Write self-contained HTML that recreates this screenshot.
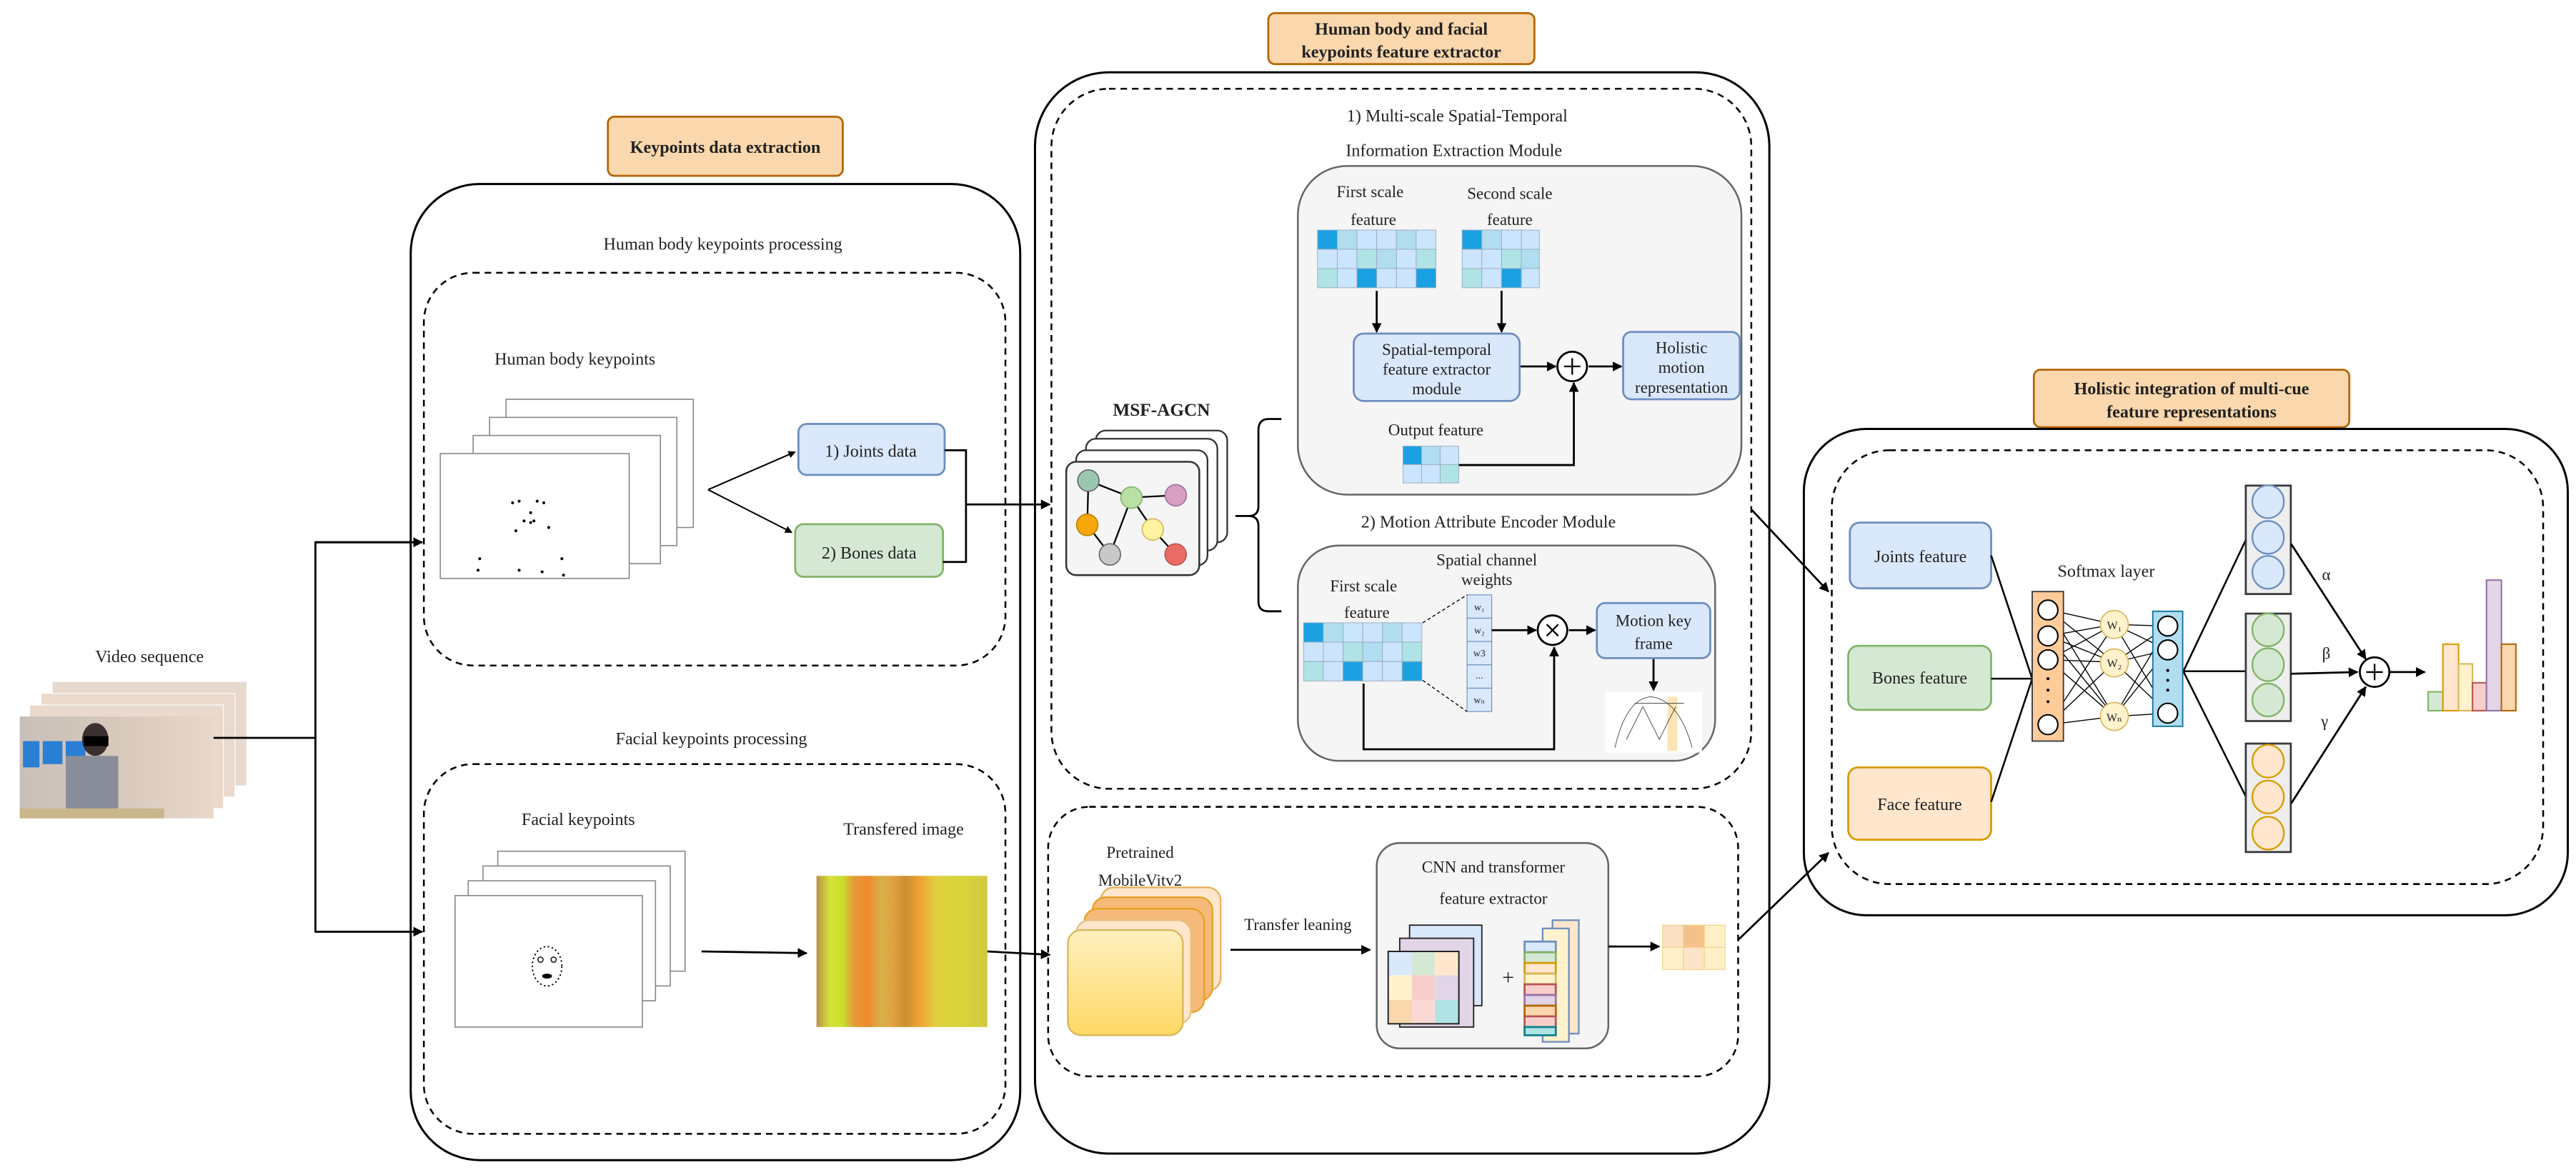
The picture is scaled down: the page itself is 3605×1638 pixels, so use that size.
<!DOCTYPE html>
<html><head><meta charset="utf-8"><style>
html,body{margin:0;padding:0;background:#fff}
svg{display:block}
svg text{font-family:"Liberation Serif","DejaVu Serif",serif !important;fill:#222}
</style></head><body>
<svg width="3605" height="1638" viewBox="0 0 1568 712" preserveAspectRatio="none" xmlns="http://www.w3.org/2000/svg" font-family="Liberation Serif, serif">
<defs>
<marker id="a" viewBox="0 0 10 10" refX="9" refY="5" markerWidth="5" markerHeight="5" orient="auto"><path d="M0,0L10,5L0,10z" fill="#000"/></marker>
<linearGradient id="tg" x1="0" x2="1" y1="0" y2="0">
<stop offset="0" stop-color="#b8914a"/><stop offset="0.08" stop-color="#d7e23a"/><stop offset="0.15" stop-color="#c8e02a"/><stop offset="0.22" stop-color="#e59a3a"/><stop offset="0.3" stop-color="#ef8a2a"/><stop offset="0.38" stop-color="#d8b048"/><stop offset="0.45" stop-color="#e2a040"/><stop offset="0.52" stop-color="#c99030"/><stop offset="0.6" stop-color="#f0a030"/><stop offset="0.7" stop-color="#e0d040"/><stop offset="0.85" stop-color="#d8d438"/><stop offset="1" stop-color="#d4c840"/></linearGradient>
<linearGradient id="yg" x1="0" x2="0" y1="0" y2="1"><stop offset="0" stop-color="#fff0c0"/><stop offset="1" stop-color="#ffd966"/></linearGradient>
<linearGradient id="vg" x1="0" x2="1" y1="0" y2="0"><stop offset="0" stop-color="#c8c0b8"/><stop offset="0.5" stop-color="#d8c8bc"/><stop offset="1" stop-color="#e8d8cc"/></linearGradient>
</defs>

<!-- Title boxes -->
<rect x="370" y="71" width="143" height="36" rx="4" fill="#fad7ac" stroke="#b46504" stroke-width="1.2"/>
<text x="441.5" y="93" font-size="10.5" font-weight="bold" text-anchor="middle">Keypoints data extraction</text>
<rect x="772" y="8" width="162" height="31" rx="4" fill="#fad7ac" stroke="#b46504" stroke-width="1.2"/>
<text x="853" y="21" font-size="10.5" font-weight="bold" text-anchor="middle">Human body and facial</text>
<text x="853" y="35" font-size="10.5" font-weight="bold" text-anchor="middle">keypoints feature extractor</text>
<rect x="1238" y="225" width="192" height="35" rx="4" fill="#fad7ac" stroke="#b46504" stroke-width="1.2"/>
<text x="1334" y="240" font-size="10.5" font-weight="bold" text-anchor="middle">Holistic integration of multi-cue</text>
<text x="1334" y="254" font-size="10.5" font-weight="bold" text-anchor="middle">feature representations</text>

<!-- Outer boxes -->
<rect x="250" y="112" width="371" height="594" rx="42" fill="none" stroke="#000" stroke-width="1.3"/>
<rect x="630" y="44" width="447" height="658" rx="45" fill="none" stroke="#000" stroke-width="1.3"/>
<rect x="1098" y="261" width="465" height="296" rx="38" fill="none" stroke="#000" stroke-width="1.3"/>

<!-- Dashed -->
<g fill="none" stroke="#000" stroke-width="1.1" stroke-dasharray="4,3">
<rect x="258" y="166" width="354" height="239" rx="30"/>
<rect x="258" y="465" width="354" height="225" rx="30"/>
<rect x="640" y="54" width="426" height="426" rx="35"/>
<rect x="638" y="491" width="420" height="164" rx="25"/>
<rect x="1115" y="274" width="433" height="264" rx="35"/>
</g>

<!-- Video sequence -->
<text x="91" y="403" font-size="10.5" text-anchor="middle">Video sequence</text>
<rect x="32" y="415" width="118" height="63" fill="#e7d9cc"/>
<rect x="25" y="422" width="118" height="63" fill="#ead9cc" stroke="#fff" stroke-width="0.5"/>
<rect x="18" y="429" width="118" height="63" fill="#ead9cc" stroke="#fff" stroke-width="0.5"/>
<rect x="12" y="436" width="118" height="62" fill="url(#vg)"/>
<rect x="14" y="451" width="10" height="16" fill="#2a7fd4"/><rect x="26" y="451" width="12" height="14" fill="#2a7fd4"/><rect x="40" y="451" width="12" height="14" fill="#2a7fd4"/>
<ellipse cx="58" cy="450" rx="8" ry="10" fill="#3a3030"/>
<rect x="51" y="448" width="15" height="6" fill="#000"/>
<rect x="40" y="460" width="32" height="32" fill="#8a8e9a"/>
<rect x="12" y="492" width="88" height="6" fill="#c9b68a"/>
<!-- video connectors -->
<g stroke="#000" stroke-width="1.2" fill="none">
<path d="M130,449H192"/>
<path d="M250,330H192V567H250" />
<path d="M192,330H257" marker-end="url(#a)"/>
<path d="M192,567H257" marker-end="url(#a)"/>
</g>

<!-- Human body keypoints processing -->
<text x="440" y="152" font-size="10.5" text-anchor="middle">Human body keypoints processing</text>
<text x="350" y="222" font-size="10.5" text-anchor="middle">Human body keypoints</text>
<g fill="#fff" stroke="#888" stroke-width="0.7">
<rect x="308" y="243" width="114" height="78"/>
<rect x="298" y="254" width="114" height="78"/>
<rect x="288" y="265" width="114" height="78"/>
<rect x="268" y="276" width="115" height="76"/>
</g>
<g fill="#000">
<circle cx="312" cy="306" r="0.9"/><circle cx="316" cy="305" r="0.9"/><circle cx="327" cy="305" r="0.9"/><circle cx="331" cy="306" r="0.9"/>
<circle cx="323" cy="312" r="0.9"/><circle cx="319" cy="317" r="0.9"/><circle cx="323" cy="318" r="0.9"/><circle cx="325" cy="317" r="0.9"/><circle cx="314" cy="323" r="0.9"/><circle cx="334" cy="321" r="0.9"/>
<circle cx="292" cy="340" r="0.9"/><circle cx="291" cy="347" r="0.9"/><circle cx="316" cy="347" r="0.9"/><circle cx="330" cy="348" r="0.9"/><circle cx="342" cy="340" r="0.9"/><circle cx="343" cy="350" r="0.9"/>
</g>
<g stroke="#000" stroke-width="0.9" fill="none">
<path d="M431,298L484,275" marker-end="url(#a)"/>
<path d="M431,298L482,324" marker-end="url(#a)"/>
</g>
<rect x="486" y="258" width="89" height="31" rx="5" fill="#dae8fc" stroke="#6c8ebf" stroke-width="1.2"/>
<text x="530" y="278" font-size="10.5" text-anchor="middle">1) Joints data</text>
<rect x="484" y="319" width="90" height="32" rx="5" fill="#d5e8d4" stroke="#82b366" stroke-width="1.2"/>
<text x="529" y="340" font-size="10.5" text-anchor="middle">2) Bones data</text>
<g stroke="#000" stroke-width="1.2" fill="none">
<path d="M575,274H588V342H574"/>
<path d="M588,307H639" marker-end="url(#a)"/>
</g>

<!-- Facial -->
<text x="433" y="453" font-size="10.5" text-anchor="middle">Facial keypoints processing</text>
<text x="352" y="502" font-size="10.5" text-anchor="middle">Facial keypoints</text>
<text x="550" y="508" font-size="10.5" text-anchor="middle">Transfered image</text>
<g fill="#fff" stroke="#888" stroke-width="0.7">
<rect x="303" y="518" width="114" height="73"/>
<rect x="294" y="527" width="114" height="73"/>
<rect x="285" y="536" width="114" height="73"/>
<rect x="277" y="545" width="114" height="80"/>
</g>
<ellipse cx="333" cy="588" rx="9" ry="12" fill="none" stroke="#000" stroke-width="0.8" stroke-dasharray="1,1.5"/>
<circle cx="329" cy="584" r="1.6" fill="none" stroke="#000" stroke-width="0.6"/><circle cx="337" cy="584" r="1.6" fill="none" stroke="#000" stroke-width="0.6"/>
<ellipse cx="333" cy="594" rx="3" ry="1.5" fill="#000"/>
<path d="M427,579L491,580" stroke="#000" stroke-width="1.2" marker-end="url(#a)"/>
<rect x="497" y="533" width="104" height="92" fill="url(#tg)"/>
<path d="M601,579L639,581" stroke="#000" stroke-width="1.2" marker-end="url(#a)"/>

<!-- Middle top -->
<text x="887" y="74" font-size="10.5" text-anchor="middle">1) Multi-scale Spatial-Temporal</text>
<text x="885" y="95" font-size="10.5" text-anchor="middle">Information Extraction Module</text>
<rect x="790" y="101" width="270" height="200" rx="30" fill="#f5f5f5" stroke="#666" stroke-width="1.1"/>
<text x="834" y="120" font-size="10" text-anchor="middle">First scale</text>
<text x="836" y="137" font-size="10" text-anchor="middle">feature</text>
<text x="919" y="121" font-size="10" text-anchor="middle">Second scale</text>
<text x="919" y="137" font-size="10" text-anchor="middle">feature</text>
<g stroke="#9ab" stroke-width="0.4">
<rect x="802" y="140" width="12" height="11.7" fill="#1ba1e2"/><rect x="814" y="140" width="12" height="11.7" fill="#b1ddf0"/><rect x="826" y="140" width="12" height="11.7" fill="#cce5ff"/><rect x="838" y="140" width="12" height="11.7" fill="#cce5ff"/><rect x="850" y="140" width="12" height="11.7" fill="#b1ddf0"/><rect x="862" y="140" width="12" height="11.7" fill="#cce5ff"/>
<rect x="802" y="151.7" width="12" height="11.7" fill="#cce5ff"/><rect x="814" y="151.7" width="12" height="11.7" fill="#cce5ff"/><rect x="826" y="151.7" width="12" height="11.7" fill="#b0e3e6"/><rect x="838" y="151.7" width="12" height="11.7" fill="#b1ddf0"/><rect x="850" y="151.7" width="12" height="11.7" fill="#cce5ff"/><rect x="862" y="151.7" width="12" height="11.7" fill="#b0e3e6"/>
<rect x="802" y="163.4" width="12" height="11.7" fill="#b0e3e6"/><rect x="814" y="163.4" width="12" height="11.7" fill="#cce5ff"/><rect x="826" y="163.4" width="12" height="11.7" fill="#1ba1e2"/><rect x="838" y="163.4" width="12" height="11.7" fill="#cce5ff"/><rect x="850" y="163.4" width="12" height="11.7" fill="#cce5ff"/><rect x="862" y="163.4" width="12" height="11.7" fill="#1ba1e2"/>
<rect x="890" y="140" width="12" height="11.7" fill="#1ba1e2"/><rect x="902" y="140" width="12" height="11.7" fill="#b1ddf0"/><rect x="914" y="140" width="12" height="11.7" fill="#cce5ff"/><rect x="926" y="140" width="11" height="11.7" fill="#cce5ff"/>
<rect x="890" y="151.7" width="12" height="11.7" fill="#cce5ff"/><rect x="902" y="151.7" width="12" height="11.7" fill="#cce5ff"/><rect x="914" y="151.7" width="12" height="11.7" fill="#b0e3e6"/><rect x="926" y="151.7" width="11" height="11.7" fill="#b1ddf0"/>
<rect x="890" y="163.4" width="12" height="11.7" fill="#b0e3e6"/><rect x="902" y="163.4" width="12" height="11.7" fill="#cce5ff"/><rect x="914" y="163.4" width="12" height="11.7" fill="#1ba1e2"/><rect x="926" y="163.4" width="11" height="11.7" fill="#cce5ff"/>
<rect x="854" y="271.5" width="11.3" height="11.2" fill="#1ba1e2"/><rect x="865.3" y="271.5" width="11.3" height="11.2" fill="#b1ddf0"/><rect x="876.6" y="271.5" width="11.3" height="11.2" fill="#cce5ff"/>
<rect x="854" y="282.7" width="11.3" height="11.2" fill="#cce5ff"/><rect x="865.3" y="282.7" width="11.3" height="11.2" fill="#cce5ff"/><rect x="876.6" y="282.7" width="11.3" height="11.2" fill="#b0e3e6"/>
</g>
<g stroke="#000" stroke-width="1.2" fill="none">
<path d="M838,177V202" marker-end="url(#a)"/>
<path d="M914,177V202" marker-end="url(#a)"/>
<path d="M925,223H947" marker-end="url(#a)"/>
<path d="M967,223H987" marker-end="url(#a)"/>
<path d="M888,283H958V233" marker-end="url(#a)"/>
</g>
<rect x="824" y="203" width="101" height="41" rx="6" fill="#dae8fc" stroke="#6c8ebf" stroke-width="1.2"/>
<text x="874.5" y="216" font-size="10" text-anchor="middle">Spatial-temporal</text>
<text x="874.5" y="228" font-size="10" text-anchor="middle">feature extractor</text>
<text x="874.5" y="240" font-size="10" text-anchor="middle">module</text>
<circle cx="957" cy="223" r="9" fill="#fff" stroke="#000" stroke-width="1.2"/>
<path d="M952,223H962M957,218V228" stroke="#000" stroke-width="1"/>
<rect x="988" y="202" width="71" height="41" rx="5" fill="#dae8fc" stroke="#6c8ebf" stroke-width="1.2"/>
<text x="1023.5" y="215" font-size="10" text-anchor="middle">Holistic</text>
<text x="1023.5" y="227" font-size="10" text-anchor="middle">motion</text>
<text x="1023.5" y="239" font-size="10" text-anchor="middle">representation</text>
<text x="874" y="265" font-size="10" text-anchor="middle">Output feature</text>

<!-- MSF-AGCN -->
<text x="707" y="253" font-size="11" font-weight="bold" text-anchor="middle">MSF-AGCN</text>
<g fill="#fff" stroke="#333" stroke-width="1">
<rect x="667" y="262" width="80" height="68" rx="6"/>
<rect x="661" y="267" width="80" height="68" rx="6"/>
<rect x="655" y="274" width="80" height="70" rx="6"/>
</g>
<rect x="649" y="281" width="81" height="69" rx="6" fill="#f5f5f5" stroke="#333" stroke-width="1.1"/>
<g stroke="#000" stroke-width="1" fill="none">
<path d="M662.5,292.5L688.7,302.8L715.7,301.4"/>
<path d="M662.5,292.5L661.8,319.4L675.6,337.4L688.7,302.8L701.7,322.2L715.6,337.4"/>
</g>
<circle cx="662.5" cy="292.5" r="6.5" fill="#9ac7b0" stroke="#666" stroke-width="0.7"/>
<circle cx="688.7" cy="302.8" r="6.5" fill="#b9e0a5" stroke="#82b366" stroke-width="0.7"/>
<circle cx="715.7" cy="301.4" r="6.5" fill="#d99ec0" stroke="#9673a6" stroke-width="0.7"/>
<circle cx="661.8" cy="319.4" r="6.5" fill="#f7a70a" stroke="#c08000" stroke-width="0.7"/>
<circle cx="701.7" cy="322.2" r="6.5" fill="#fff2a0" stroke="#d6b656" stroke-width="0.7"/>
<circle cx="675.6" cy="337.4" r="6.5" fill="#c8c8c8" stroke="#666" stroke-width="0.7"/>
<circle cx="715.6" cy="337.4" r="6.5" fill="#ea6b66" stroke="#b85450" stroke-width="0.7"/>
<path d="M780,255H772Q766,255 766,262V308Q766,314 760,314H752H760Q766,314 766,320V366Q766,372 772,372H780" fill="none" stroke="#000" stroke-width="1.2"/>

<!-- Motion module -->
<text x="906" y="321" font-size="10.5" text-anchor="middle">2) Motion Attribute Encoder Module</text>
<rect x="790" y="332" width="254" height="131" rx="25" fill="#f5f5f5" stroke="#666" stroke-width="1.1"/>
<text x="905" y="344" font-size="10" text-anchor="middle">Spatial channel</text>
<text x="905" y="356" font-size="10" text-anchor="middle">weights</text>
<text x="830" y="360" font-size="10" text-anchor="middle">First scale</text>
<text x="832" y="376" font-size="10" text-anchor="middle">feature</text>
<g stroke="#9ab" stroke-width="0.4">
<rect x="793.5" y="379" width="12" height="11.8" fill="#1ba1e2"/><rect x="805.5" y="379" width="12" height="11.8" fill="#b1ddf0"/><rect x="817.5" y="379" width="12" height="11.8" fill="#cce5ff"/><rect x="829.5" y="379" width="12" height="11.8" fill="#cce5ff"/><rect x="841.5" y="379" width="12" height="11.8" fill="#b1ddf0"/><rect x="853.5" y="379" width="12" height="11.8" fill="#cce5ff"/>
<rect x="793.5" y="390.8" width="12" height="11.8" fill="#cce5ff"/><rect x="805.5" y="390.8" width="12" height="11.8" fill="#cce5ff"/><rect x="817.5" y="390.8" width="12" height="11.8" fill="#b0e3e6"/><rect x="829.5" y="390.8" width="12" height="11.8" fill="#b1ddf0"/><rect x="841.5" y="390.8" width="12" height="11.8" fill="#cce5ff"/><rect x="853.5" y="390.8" width="12" height="11.8" fill="#b0e3e6"/>
<rect x="793.5" y="402.6" width="12" height="11.8" fill="#b0e3e6"/><rect x="805.5" y="402.6" width="12" height="11.8" fill="#cce5ff"/><rect x="817.5" y="402.6" width="12" height="11.8" fill="#1ba1e2"/><rect x="829.5" y="402.6" width="12" height="11.8" fill="#cce5ff"/><rect x="841.5" y="402.6" width="12" height="11.8" fill="#cce5ff"/><rect x="853.5" y="402.6" width="12" height="11.8" fill="#1ba1e2"/>
</g>
<g fill="#dae8fc" stroke="#6c8ebf" stroke-width="0.5">
<rect x="893" y="362" width="15" height="14.2"/><rect x="893" y="376.2" width="15" height="14.2"/><rect x="893" y="390.4" width="15" height="14.2"/><rect x="893" y="404.6" width="15" height="14.2"/><rect x="893" y="418.8" width="15" height="14.2"/>
</g>
<g font-size="6" text-anchor="middle"><text x="900.5" y="371.5">w₁</text><text x="900.5" y="385.5">w₂</text><text x="900.5" y="399.5">w3</text><text x="900.5" y="413">...</text><text x="900.5" y="428">wₙ</text></g>
<path d="M866,379L893,362M866,414L893,433" stroke="#000" stroke-width="0.6" stroke-dasharray="2,1.5" fill="none"/>
<g stroke="#000" stroke-width="1.2" fill="none">
<path d="M908,383.5H935" marker-end="url(#a)"/>
<path d="M955,383.5H971" marker-end="url(#a)"/>
<path d="M830,416V456H946V394" marker-end="url(#a)"/>
<path d="M1006.5,401V420" marker-end="url(#a)"/>
</g>
<circle cx="945" cy="383.5" r="9" fill="#fff" stroke="#000" stroke-width="1.2"/>
<path d="M941.5,380L948.5,387M948.5,380L941.5,387" stroke="#000" stroke-width="1"/>
<rect x="972" y="367" width="69" height="33.5" rx="5" fill="#dae8fc" stroke="#6c8ebf" stroke-width="1.2"/>
<text x="1006.5" y="381" font-size="10" text-anchor="middle">Motion key</text>
<text x="1006.5" y="395" font-size="10" text-anchor="middle">frame</text>
<rect x="977" y="421" width="59" height="37" fill="#fff"/>
<rect x="1015" y="424" width="6" height="33" fill="#fbe5b6"/>
<path d="M983,455Q990,425 1005,424Q1022,426 1030,455M990,450L1000,430L1010,450L1020,430M995,428H1025" fill="none" stroke="#444" stroke-width="0.4"/>

<!-- Middle bottom -->
<text x="694" y="522" font-size="10" text-anchor="middle">Pretrained</text>
<text x="694" y="539" font-size="10" text-anchor="middle">MobileVitv2</text>
<rect x="670" y="540" width="73" height="63" rx="8" fill="#ffe6cc" stroke="#e6b060" stroke-width="1"/>
<rect x="665" y="546" width="73" height="63" rx="8" fill="#f5b97a" stroke="#e6a020" stroke-width="1"/>
<rect x="660" y="553" width="73" height="63" rx="8" fill="#f5b97a" stroke="#e6a020" stroke-width="1"/>
<rect x="655" y="560" width="70" height="63" rx="8" fill="#ffe6cc" stroke="#e6c080" stroke-width="1"/>
<rect x="650" y="566" width="70" height="64" rx="8" fill="url(#yg)" stroke="#d6b656" stroke-width="1"/>
<text x="790" y="566" font-size="10" text-anchor="middle">Transfer leaning</text>
<path d="M749,578H834" stroke="#000" stroke-width="1.2" marker-end="url(#a)"/>
<rect x="838" y="513" width="141" height="125" rx="14" fill="#f5f5f5" stroke="#666" stroke-width="1.1"/>
<text x="909" y="531" font-size="10" text-anchor="middle">CNN and transformer</text>
<text x="909" y="550" font-size="10" text-anchor="middle">feature extractor</text>
<g stroke="#222" stroke-width="0.8">
<rect x="858" y="563" width="44" height="49" fill="#dae8fc"/>
<rect x="852" y="571" width="45" height="54" fill="#e1d5e7"/>
</g>
<rect x="845" y="579" width="43" height="44" fill="#fff" stroke="#222" stroke-width="0.9"/>
<rect x="845.5" y="579.5" width="14" height="14" fill="#dae8fc"/><rect x="859.5" y="579.5" width="14" height="14" fill="#d5e8d4"/><rect x="873.5" y="579.5" width="14" height="14" fill="#ffe6cc"/>
<rect x="845.5" y="593.5" width="14" height="15" fill="#fff2cc"/><rect x="859.5" y="593.5" width="14" height="15" fill="#f8cecc"/><rect x="873.5" y="593.5" width="14" height="15" fill="#e1d5e7"/>
<rect x="845.5" y="608.5" width="14" height="14" fill="#fad7ac"/><rect x="859.5" y="608.5" width="14" height="14" fill="#fad9d5"/><rect x="873.5" y="608.5" width="14" height="14" fill="#b0e3e6"/>
<text x="918" y="599" font-size="13" text-anchor="middle">+</text>
<g stroke-width="1">
<rect x="945" y="560" width="16" height="69" fill="#ffe6cc" stroke="#6c8ebf"/>
<rect x="939" y="565" width="16" height="69" fill="#fff2cc" stroke="#6c8ebf"/>
</g>
<g stroke-width="1.2">
<rect x="928" y="573" width="19" height="6.5" fill="#dae8fc" stroke="#6c8ebf"/>
<rect x="928" y="579.5" width="19" height="6.5" fill="#d5e8d4" stroke="#82b366"/>
<rect x="928" y="586" width="19" height="6.5" fill="#ffe6cc" stroke="#d79b00"/>
<rect x="928" y="592.5" width="19" height="6.5" fill="#fff2cc" stroke="#d6b656"/>
<rect x="928" y="599" width="19" height="6.5" fill="#f8cecc" stroke="#b85450"/>
<rect x="928" y="605.5" width="19" height="6.5" fill="#e1d5e7" stroke="#9673a6"/>
<rect x="928" y="612" width="19" height="6.5" fill="#fad7ac" stroke="#b46504"/>
<rect x="928" y="618.5" width="19" height="6.5" fill="#f8cecc" stroke="#b85450"/>
<rect x="928" y="625" width="19" height="5" fill="#b0e3e6" stroke="#0e8088"/>
</g>
<path d="M979,576H1010" stroke="#000" stroke-width="1.2" marker-end="url(#a)"/>
<g stroke="#f2d08a" stroke-width="0.5">
<rect x="1012" y="563" width="12.7" height="13.5" fill="#fde1c4"/><rect x="1024.7" y="563" width="12.7" height="13.5" fill="#f5c18a"/><rect x="1037.4" y="563" width="12.6" height="13.5" fill="#fff0c8"/>
<rect x="1012" y="576.5" width="12.7" height="13.5" fill="#fff0c8"/><rect x="1024.7" y="576.5" width="12.7" height="13.5" fill="#fde4c8"/><rect x="1037.4" y="576.5" width="12.6" height="13.5" fill="#fff0c8"/>
</g>
<g stroke="#000" stroke-width="1.2" fill="none">
<path d="M1058,572L1113,519" marker-end="url(#a)"/>
<path d="M1066,310L1113,360" marker-end="url(#a)"/>
</g>

<!-- Right panel -->
<rect x="1126" y="318" width="86" height="40" rx="6" fill="#dae8fc" stroke="#6c8ebf" stroke-width="1.2"/>
<text x="1169" y="342" font-size="10.5" text-anchor="middle">Joints feature</text>
<rect x="1125" y="393" width="87" height="39" rx="6" fill="#d5e8d4" stroke="#82b366" stroke-width="1.2"/>
<text x="1168.5" y="416" font-size="10.5" text-anchor="middle">Bones feature</text>
<rect x="1125" y="467" width="87" height="44" rx="6" fill="#ffe6cc" stroke="#d79b00" stroke-width="1.2"/>
<text x="1168.5" y="493" font-size="10.5" text-anchor="middle">Face feature</text>
<text x="1282" y="351" font-size="10.5" text-anchor="middle">Softmax layer</text>
<g stroke="#000" stroke-width="1.1" fill="none">
<path d="M1212,338L1237,413M1212,413H1237M1212,488L1237,413"/>
<path d="M1329,408.5L1367,328.6M1329,408.5H1367M1329,408.5L1367,484.7"/>
</g>
<g stroke="#000" stroke-width="0.6" fill="none">
<path d="M1247,371L1287,380M1247,371L1287,403M1247,371L1287,436M1247,387L1287,380M1247,387L1287,403M1247,387L1287,436M1247,401.5L1287,380M1247,401.5L1287,403M1247,401.5L1287,436M1247,441L1287,380M1247,441L1287,403M1247,441L1287,436"/>
<path d="M1287,380L1319.5,381M1287,380L1319.5,395.5M1287,380L1319.5,434M1287,403L1319.5,381M1287,403L1319.5,395.5M1287,403L1319.5,434M1287,436L1319.5,381M1287,436L1319.5,395.5M1287,436L1319.5,434"/>
</g>
<rect x="1237" y="360" width="19" height="91" fill="#ffcc99" stroke="#36393d" stroke-width="0.8"/>
<g fill="#fff" stroke="#000" stroke-width="0.9">
<circle cx="1246.6" cy="371.2" r="6"/><circle cx="1246.6" cy="387" r="6"/><circle cx="1246.6" cy="401.5" r="6"/><circle cx="1246.6" cy="441" r="6"/>
</g>
<g fill="#000"><circle cx="1246.6" cy="413" r="0.9"/><circle cx="1246.6" cy="420" r="0.9"/><circle cx="1246.6" cy="427" r="0.9"/></g>
<rect x="1310.4" y="372" width="18.2" height="70" fill="#b1ddf0" stroke="#10739e" stroke-width="0.8"/>
<g fill="#fff" stroke="#000" stroke-width="0.9">
<circle cx="1319.5" cy="381" r="6"/><circle cx="1319.5" cy="395.5" r="6"/><circle cx="1319.5" cy="434" r="6"/>
</g>
<g fill="#000"><circle cx="1319.5" cy="408" r="0.9"/><circle cx="1319.5" cy="414" r="0.9"/><circle cx="1319.5" cy="420" r="0.9"/></g>
<g fill="#fff2cc" stroke="#d6b656" stroke-width="0.7">
<circle cx="1287" cy="380" r="8.5"/><circle cx="1287" cy="403.4" r="8.5"/><circle cx="1287" cy="436" r="8.5"/>
</g>
<g font-size="7" text-anchor="middle"><text x="1287" y="383">W₁</text><text x="1287" y="406">W₂</text><text x="1287" y="439">Wₙ</text></g>
<g fill="#eeeeee" stroke="#36393d" stroke-width="1.2">
<rect x="1367" y="295.5" width="27.4" height="66"/>
<rect x="1367" y="373.4" width="27.4" height="65.4"/>
<rect x="1367" y="452.5" width="27.4" height="66"/>
</g>
<g fill="#dae8fc" stroke="#6c8ebf" stroke-width="1"><ellipse cx="1380.6" cy="305.3" rx="9.6" ry="10"/><ellipse cx="1380.6" cy="327" rx="9.6" ry="10"/><ellipse cx="1380.6" cy="348.3" rx="9.6" ry="10"/></g>
<g fill="#d5e8d4" stroke="#82b366" stroke-width="1"><ellipse cx="1380.6" cy="383.3" rx="9.6" ry="10"/><ellipse cx="1380.6" cy="404.5" rx="9.6" ry="10"/><ellipse cx="1380.6" cy="426" rx="9.6" ry="10"/></g>
<g fill="#ffe6cc" stroke="#d79b00" stroke-width="1"><ellipse cx="1380.6" cy="463.2" rx="9.6" ry="10"/><ellipse cx="1380.6" cy="485" rx="9.6" ry="10"/><ellipse cx="1380.6" cy="507" rx="9.6" ry="10"/></g>
<g stroke="#000" stroke-width="1.2" fill="none">
<path d="M1394.6,331L1440,401" marker-end="url(#a)"/>
<path d="M1394.6,410L1435,409" marker-end="url(#a)"/>
<path d="M1394.6,489L1440,418" marker-end="url(#a)"/>
<path d="M1454.5,409H1476" marker-end="url(#a)"/>
</g>
<text x="1416" y="353" font-size="10" text-anchor="middle">α</text>
<text x="1416" y="401" font-size="10" text-anchor="middle">β</text>
<text x="1415" y="442" font-size="10" text-anchor="middle">γ</text>
<circle cx="1445.4" cy="409" r="9" fill="#fff" stroke="#000" stroke-width="1.2"/>
<path d="M1440.4,409H1450.4M1445.4,404V414" stroke="#000" stroke-width="1"/>
<g stroke-width="0.9">
<rect x="1478" y="421" width="9" height="11.5" fill="#d5e8d4" stroke="#82b366"/>
<rect x="1487" y="392" width="9.5" height="40.5" fill="#ffe6cc" stroke="#d79b00"/>
<rect x="1496.5" y="404" width="8.5" height="28.5" fill="#fff2cc" stroke="#d6b656"/>
<rect x="1505" y="415.5" width="8.5" height="17" fill="#f8cecc" stroke="#b85450"/>
<rect x="1513.5" y="353" width="9.1" height="79.5" fill="#e1d5e7" stroke="#9673a6"/>
<rect x="1522.6" y="392" width="8.8" height="40.5" fill="#fad7ac" stroke="#b46504"/>
</g>
</svg>
</body></html>
